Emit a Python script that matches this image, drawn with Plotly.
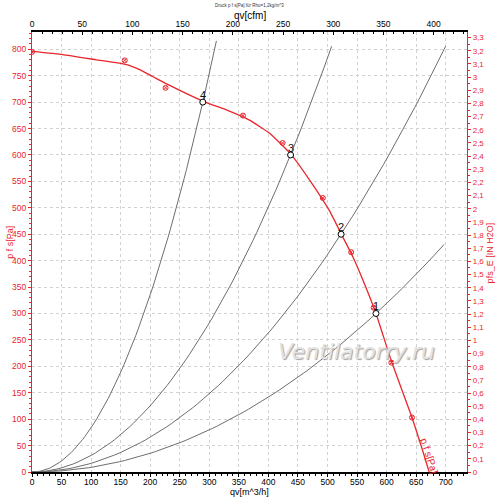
import plotly.graph_objects as go

# ---------------- data ----------------
# fan curve (red line): q [m^3/h], p [Pa]
fan_q = [0, 52, 109, 160, 182, 205, 227, 289, 334, 368, 402, 437.5, 470, 503, 523, 543, 560, 582, 608, 643, 660, 672]
fan_p = [796, 790, 780, 771, 761.5, 748, 735, 702, 683, 666, 641, 602, 552, 495, 451, 407, 363, 300, 210, 103, 44, 0]

# measured points (red markers)
meas_q = [0, 157, 226, 357, 424, 492, 540, 578, 608, 643]
meas_p = [795, 779, 727, 674.5, 622.7, 518.7, 416, 311, 207, 103]

# operating points (intersections with system curves)
op_labels = ["4", "3", "2", "1"]
op_q = [289, 437.5, 523, 582]
op_p = [700, 600, 450, 300]
# end of each system curve (m^3/h)
sys_end_q = [312, 507, 700, 697]

M3H_PER_CFM = 1.69901
PA_PER_INH2O = 249.0889
X_MAX = 736
Y_MAX = 832.7

title_text = "Druck p f s[Pa] für Rho=1,2kg/m^3"
x_title = "qv[m^3/h]"
x2_title = "qv[cfm]"
y_title = "p f s[Pa]"
y2_title = "pfs_E [IN H2O]"
FONT = "Liberation Sans, Arial, sans-serif"
RED = "#e8262b"

fig = go.Figure()

# system curves (quadratic resistance curves through the operating points)
for q0, p0, qe in zip(op_q, op_p, sys_end_q):
    n = 80
    qs = [qe * i / n for i in range(n + 1)]
    ps = [p0 * (q / q0) ** 2 for q in qs]
    fig.add_trace(go.Scatter(x=qs, y=ps, mode="lines",
                             line=dict(color="#6e6e6e", width=1),
                             hoverinfo="skip", showlegend=False))

# fan curve
fig.add_trace(go.Scatter(x=fan_q, y=fan_p, mode="lines",
                         line=dict(color=RED, width=1.3, shape="spline", smoothing=0.4),
                         showlegend=False))
fig.add_trace(go.Scatter(x=meas_q, y=meas_p, mode="markers",
                         marker=dict(symbol="circle-x-open", size=5, color=RED,
                                     line=dict(color=RED, width=1)),
                         showlegend=False))
fig.add_trace(go.Scatter(x=op_q, y=op_p, mode="markers",
                         marker=dict(symbol="circle", size=6, color="white",
                                     line=dict(color="black", width=1)),
                         showlegend=False))

# dummy trace for the secondary axes
fig.add_trace(go.Scatter(x=[0], y=[0], xaxis="x2", yaxis="y2", mode="markers",
                         marker=dict(opacity=0), hoverinfo="skip", showlegend=False))

annotations = []
for lab, q, p in zip(op_labels, op_q, op_p):
    annotations.append(dict(x=q, y=p, text=lab, showarrow=False, yshift=7,
                            font=dict(family=FONT, size=11, color="#111")))

annotations.append(dict(x=673, y=30, text="p f s[Pa]", showarrow=False, textangle=72,
                        font=dict(family=FONT, size=10, color=RED)))

# chart title and axis titles
annotations.append(dict(x=0.5, y=1, xref="paper", yref="paper", xanchor="center",
                        yanchor="middle", yshift=26.5, text=title_text, showarrow=False,
                        font=dict(family=FONT, size=4.5, color="#333")))
annotations.append(dict(x=0.5, y=1, xref="paper", yref="paper", xanchor="center",
                        yanchor="middle", yshift=17, text=x2_title, showarrow=False,
                        font=dict(family=FONT, size=10, color="black")))
annotations.append(dict(x=0.5, y=0, xref="paper", yref="paper", xanchor="center",
                        yanchor="middle", yshift=-19.5, text=x_title, showarrow=False,
                        font=dict(family=FONT, size=9, color="black")))
annotations.append(dict(x=0, y=0.521, xref="paper", yref="paper", xanchor="center",
                        yanchor="middle", xshift=-22, textangle=-90, text=y_title,
                        showarrow=False, font=dict(family=FONT, size=9, color=RED)))
annotations.append(dict(x=1, y=0.498, xref="paper", yref="paper", xanchor="center",
                        yanchor="middle", xshift=22.5, textangle=-90, text=y2_title,
                        showarrow=False, font=dict(family=FONT, size=9, color=RED)))

# watermark
annotations.append(dict(x=0.745, y=0.2735, xref="paper", yref="paper", xanchor="center",
                        yanchor="middle", text="Ventilatorry.ru", showarrow=False,
                        font=dict(family="DejaVu Sans", size=22, color="#e2e2e2",
                                  style="italic", shadow="1px 1px 1px #a0a0a0")))

fig.update_layout(
    width=500, height=503,
    margin=dict(l=32, r=32.5, t=32, b=30.5),
    plot_bgcolor="white", paper_bgcolor="white",
    separators=", ",
    font=dict(family=FONT),
    annotations=annotations,
    xaxis=dict(range=[0, X_MAX], dtick=50, showgrid=True, gridcolor="#d2d2d2",
               griddash="dot", gridwidth=1, zeroline=False, automargin=False,
               showline=True, linecolor="black", linewidth=1.5,
               ticks="outside", ticklen=3, tickcolor="black", ticklabelstandoff=-2,
               minor=dict(dtick=10, ticklen=2, ticks="outside", tickcolor="black", showgrid=False),
               tickfont=dict(size=8.5, color="black")),
    yaxis=dict(range=[0, Y_MAX], dtick=50, showgrid=True, gridcolor="#d2d2d2",
               griddash="dot", gridwidth=1, zeroline=False, automargin=False,
               showline=True, linecolor=RED, linewidth=1.2,
               ticks="outside", ticklen=3, tickcolor=RED,
               minor=dict(dtick=10, ticklen=2, ticks="outside", tickcolor=RED, showgrid=False),
               tickfont=dict(size=8.5, color=RED)),
    xaxis2=dict(overlaying="x", side="top", range=[0, X_MAX / M3H_PER_CFM], dtick=50,
                showgrid=False, zeroline=False, showline=True, linecolor="black", linewidth=1.5,
                automargin=False,
                ticks="inside", ticklen=3, tickcolor="black",
                minor=dict(dtick=10, ticklen=2, ticks="inside", tickcolor="black"),
                tickfont=dict(size=8.5, color="black")),
    yaxis2=dict(overlaying="y", side="right", range=[0, Y_MAX / PA_PER_INH2O], dtick=0.1,
                showgrid=False, zeroline=False, showline=True, linecolor=RED, linewidth=1.2,
                automargin=False,
                ticks="outside", ticklen=3, tickcolor=RED,
                minor=dict(dtick=0.05, ticklen=2, ticks="outside", tickcolor=RED),
                tickfont=dict(size=8, color=RED)),
)

# remove the default 8px page margin so the figure fills the window exactly
fig.write_html("out.html", config={"displayModeBar": False},
               post_script="document.body.style.margin='0px';")
